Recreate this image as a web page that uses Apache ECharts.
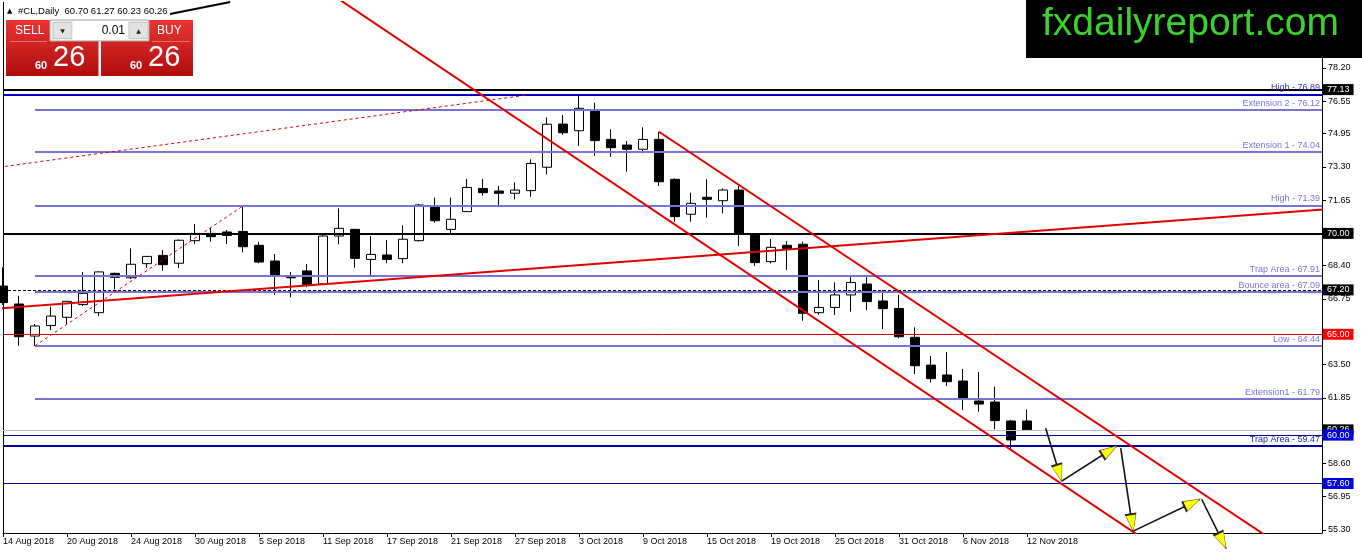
<!DOCTYPE html>
<html><head><meta charset="utf-8">
<script src="https://cdn.jsdelivr.net/npm/echarts@6/dist/echarts.min.js"></script>
<style>html,body{margin:0;padding:0;background:#fff}#c{width:1362px;height:554px}</style>
</head><body><div id="c"></div>
<script>
// ---------- data ----------
const dateLabels = ['14 Aug 2018','20 Aug 2018','24 Aug 2018','30 Aug 2018','5 Sep 2018','11 Sep 2018','17 Sep 2018','21 Sep 2018','27 Sep 2018','3 Oct 2018','9 Oct 2018','15 Oct 2018','19 Oct 2018','25 Oct 2018','31 Oct 2018','6 Nov 2018','12 Nov 2018'];
const dateLabelBars = [0,4,8,12,16,20,24,28,32,36,40,44,48,52,56,60,64];

const open  = [67.39,66.50,64.91,65.43,65.84,66.47,66.07,68.02,67.80,68.50,68.91,68.52,69.64,70.00,70.07,70.10,69.41,68.63,67.82,68.14,67.49,69.87,70.20,68.71,68.93,68.75,69.64,71.33,70.20,71.08,72.23,72.10,71.99,72.12,73.28,75.42,75.09,76.12,74.66,74.38,74.17,74.66,72.68,70.95,71.79,71.62,72.15,69.99,68.60,69.41,69.46,66.07,66.33,66.95,67.49,66.65,66.28,64.85,63.47,62.98,62.68,61.69,61.64,60.70,60.70];
const high  = [68.32,66.90,65.51,66.37,66.65,68.09,68.12,68.05,69.26,68.88,69.18,69.70,70.47,70.28,70.17,71.36,69.57,68.98,68.09,68.48,69.94,71.24,70.22,69.87,69.67,70.40,71.46,71.77,71.77,72.70,72.70,72.35,72.53,73.67,75.75,75.87,76.86,76.48,75.16,74.58,75.26,75.04,72.73,72.02,72.68,72.23,72.35,70.00,69.72,69.62,69.59,67.69,67.57,67.86,67.86,67.19,66.95,65.34,63.92,64.12,63.28,63.13,62.40,60.75,61.27];
const low   = [66.45,64.43,64.42,65.21,65.51,66.40,65.90,67.23,67.74,68.30,68.15,68.28,69.47,69.59,69.47,69.06,68.52,66.96,66.83,67.33,67.45,69.46,68.30,67.94,68.52,68.52,69.59,70.53,70.00,71.07,71.87,71.41,71.69,71.82,72.93,74.88,74.33,73.84,73.80,73.06,73.97,72.35,70.58,70.58,70.78,71.00,69.38,68.38,68.51,68.19,65.67,65.96,65.96,66.12,66.20,65.26,64.80,63.03,62.60,62.43,61.24,61.16,60.29,59.26,60.23];
const close = [66.57,64.88,65.41,65.90,66.63,67.03,68.09,67.82,68.47,68.86,68.45,69.66,69.95,69.84,69.90,69.34,68.58,67.94,67.80,67.44,69.87,70.25,68.76,68.96,68.71,69.71,71.41,70.63,70.70,72.28,72.02,71.99,72.15,73.47,75.41,74.99,76.20,74.60,74.25,74.17,74.66,72.56,70.83,71.49,71.69,72.15,69.99,68.55,69.31,69.24,66.04,66.33,66.95,67.57,66.62,66.27,64.88,63.44,62.80,62.65,61.81,61.54,60.72,59.76,60.26];

const priceTicks = [78.20,76.55,74.95,73.30,71.65,70.00,68.40,66.75,63.50,61.85,58.60,56.95,55.30];

const levelStartBar = 2;
const levelValues = [76.12,74.04,71.39,67.91,67.09,64.44,61.79];
const levelNames  = ['Extension 2','Extension 1','High','Trap Area','Bounce area','Low','Extension1'];
const blueLevelValues = [76.89,59.47];
const blueLevelNames  = ['High','Trap Area'];
const blackTagPrices = [77.13,70.00];
const dashedTagPrice = 67.20;
const redTagPrice = 65.00;
const bidPrice = 60.26;
const blueTagPrices = [60.00,57.60];

const risingLine   = [[-1,66.23],[83,71.21]];
const fibDashLine  = [[2,64.43],[15,71.36]];
const upperDashLine= [[-1,73.20],[32.75,76.86]];
const channelLower = [[20,82.14],[71,55.01]];
const channelUpper = [[41,75.04],[79,54.98]];
const topBlackLine = [[10.44,80.88],[14.2,81.47]];
const arrowSegments = [
  [[65.17,60.34],[66.17,57.72]],
  [[66.17,57.72],[69.61,59.46]],
  [[69.86,59.35],[70.64,55.24]],
  [[70.64,55.24],[74.81,56.82]],
  [[74.92,56.82],[76.44,54.39]]
];
const headerText = '#CL,Daily  60.70 61.27 60.23 60.26';
const lotSize = '0.01';
const sellBig = '26', sellSmall = '60', buyBig = '26', buySmall = '60';

// ---------- chart ----------
const X_MIN = 0, X_MAX = 82.44, Y_MIN = 55.147, Y_MAX = 81.472;
const FONT = '"Liberation Sans", Arial, sans-serif';
const PURPLE = '#7b72d6';

const candles = open.map((o,i)=>[i,o,close[i],low[i],high[i]]);

function fullLine(v, color, width, type, label){
  return {yAxis:v, lineStyle:{color, width, type:type||'solid'}, label: label || {show:false}};
}
function tagLabel(text, bg){
  return {show:true, position:'end', formatter:text, color:'#fff', backgroundColor:bg,
    padding:[1,4,0,4], lineHeight:10, fontSize:9, fontFamily:FONT, distance:1};
}
function textLabel(text, color){
  return {show:true, position:'insideEndTop', formatter:text, color, fontSize:9, fontFamily:FONT, distance:2};
}

const levelData = [];
// left frame line
levelData.push({xAxis:X_MIN, lineStyle:{color:'#000', width:1, type:'solid'}, label:{show:false}});
levelValues.forEach((v,i)=>{
  levelData.push([
    {coord:[levelStartBar,v], lineStyle:{color:PURPLE,width:2,type:'solid'},
     label:textLabel(levelNames[i]+' - '+v.toFixed(2), PURPLE)},
    {coord:[X_MAX,v]}
  ]);
});
levelData.push(fullLine(blueLevelValues[0], '#0000c0', 2, 'solid', textLabel(blueLevelNames[0]+' - '+blueLevelValues[0].toFixed(2), '#3434b0')));
levelData.push(fullLine(blueLevelValues[1], '#00009a', 2, 'solid', textLabel(blueLevelNames[1]+' - '+blueLevelValues[1].toFixed(2), '#22229e')));
blackTagPrices.forEach(v=>levelData.push(fullLine(v,'#000',2,'solid',tagLabel(v.toFixed(2),'#000'))));
levelData.push(fullLine(dashedTagPrice,'#000',1,[3,2],tagLabel(dashedTagPrice.toFixed(2),'#000')));
levelData.push(fullLine(redTagPrice,'#d40000',1,'solid',tagLabel(redTagPrice.toFixed(2),'#ff0000')));
levelData.push(fullLine(bidPrice,'#c0c0c0',1,'solid',tagLabel(bidPrice.toFixed(2),'#000')));
blueTagPrices.forEach(v=>levelData.push(fullLine(v,'#00009a',1,'solid',tagLabel(v.toFixed(2),'#0000e0'))));

function trend(pts, color, width, type){
  return {type:'line', data:pts, symbol:'none', silent:true, z:5, clip:true,
    lineStyle:{color, width, type:type||'solid'}};
}
// arrow heads: path whose tip sits at the bounding-box centre, so the tip lands on the segment end
const HEAD_OUTLINE = 'path://M6,0 M6,17 L12,36 L0,36 Z';
const HEAD_FILL    = 'path://M5,0 M5,16 L10,32 L0,32 Z';
function arrowLayer(color, width, head, headSize){
  return {type:'lines', coordinateSystem:'cartesian2d', polyline:false, silent:true, z:8, clip:false,
    symbol: head ? ['none', head] : 'none',
    symbolSize: head ? [0, headSize] : 0,
    lineStyle:{color, width, type:'solid', opacity:1, curveness:0},
    data: arrowSegments.map(s=>({coords:s}))};
}

const redGrad = new echarts.graphic.LinearGradient(0,0,0,1,[{offset:0,color:'#ea3434'},{offset:1,color:'#b00c0c'}]);

const option = {
  animation:false,
  backgroundColor:'#fff',
  grid:{left:3, right:40, top:2, bottom:21, containLabel:false},
  xAxis:{type:'value', min:X_MIN, max:X_MAX, position:'bottom',
    axisLine:{show:true, onZero:false, lineStyle:{color:'#000', width:1}},
    axisTick:{show:true, length:4, lineStyle:{color:'#000'}, customValues:dateLabelBars},
    axisLabel:{show:true, customValues:dateLabelBars, align:'left', margin:4, fontSize:9, fontFamily:FONT, color:'#000',
      formatter:(v)=>{const i=dateLabelBars.indexOf(Math.round(v)); return i>=0?dateLabels[i]:'';}},
    splitLine:{show:false}},
  yAxis:{type:'value', min:Y_MIN, max:Y_MAX, position:'right', scale:true,
      axisLine:{show:true, onZero:false, lineStyle:{color:'#000', width:1}},
      axisTick:{show:true, length:4, lineStyle:{color:'#000'}, customValues:priceTicks},
      axisLabel:{show:true, customValues:priceTicks, margin:6, fontSize:9, fontFamily:FONT, color:'#000',
        formatter:(v)=>v.toFixed(2)},
      splitLine:{show:false}},
  series:[
    {type:'candlestick', data:candles, encode:{x:0, y:[1,2,3,4]}, barWidth:10, clip:true, z:2,
      itemStyle:{color:'#ffffff', color0:'#000000', borderColor:'#000000', borderColor0:'#000000', borderWidth:1}},
    {type:'line', data:[], silent:true, z:4, clip:true,
      markLine:{silent:true, symbol:'none', animation:false, data:levelData}},
    trend(risingLine,'#e00000',2),
    trend(fibDashLine,'#e00000',1,[3,3]),
    trend(upperDashLine,'#e00000',1,[3,3]),
    trend(channelLower,'#e00000',2),
    trend(channelUpper,'#e00000',2),
    trend(topBlackLine,'#000',2),
    arrowLayer('#111',1.6,null,null),
    arrowLayer('#222',0,HEAD_OUTLINE,[12,36]),
    arrowLayer('#ffff00',0,HEAD_FILL,[10,32])
  ],
  graphic:[
    // logo
    {type:'rect', z:100, shape:{x:1026,y:0,width:336,height:58}, style:{fill:'#000'}},
    {type:'text', z:101, x:1042, y:24, style:{text:'fxdailyreport.com', fill:'#3bd22d', font:'39px "Liberation Sans", Arial', verticalAlign:'middle'}},
    // header
    {type:'text', z:101, x:7, y:11, style:{text:'\u25B2', fill:'#000', font:'7px "DejaVu Sans"', verticalAlign:'middle'}},
    {type:'text', z:101, x:18, y:11, style:{text:headerText, fill:'#000', font:'9.5px "Liberation Sans", Arial', verticalAlign:'middle'}},
    // trade panel
    {type:'rect', z:100, shape:{x:6,y:20,width:92.5,height:56}, style:{fill:redGrad}},
    {type:'rect', z:100, shape:{x:101,y:20,width:92,height:56}, style:{fill:redGrad}},
    {type:'rect', z:101, shape:{x:50,y:20,width:99,height:21}, style:{fill:'#f0f0f0', stroke:'#a8a8a8', lineWidth:1}},
    {type:'rect', z:102, shape:{x:53,y:22.5,width:19,height:16}, style:{fill:'#e2e2e2', stroke:'#c4c4c4', lineWidth:1}},
    {type:'rect', z:102, shape:{x:72.5,y:21,width:56,height:19}, style:{fill:'#fff'}},
    {type:'rect', z:102, shape:{x:129,y:22.5,width:19,height:16}, style:{fill:'#e2e2e2', stroke:'#c4c4c4', lineWidth:1}},
    {type:'text', z:103, x:62.5, y:31, style:{text:'\u25BC', fill:'#222', font:'6px "DejaVu Sans"', align:'center', verticalAlign:'middle'}},
    {type:'text', z:103, x:138.5, y:31, style:{text:'\u25B2', fill:'#222', font:'6px "DejaVu Sans"', align:'center', verticalAlign:'middle'}},
    {type:'text', z:103, x:125, y:31, style:{text:lotSize, fill:'#000', font:'12px "Liberation Sans", Arial', align:'right', verticalAlign:'middle'}},
    {type:'text', z:103, x:15, y:31, style:{text:'SELL', fill:'#fff', font:'12px "Liberation Sans", Arial', verticalAlign:'middle'}},
    {type:'text', z:103, x:157, y:31, style:{text:'BUY', fill:'#fff', font:'12px "Liberation Sans", Arial', verticalAlign:'middle'}},
    {type:'line', z:103, shape:{x1:10,y1:41.5,x2:47,y2:41.5}, style:{stroke:'#f07070', lineWidth:1}},
    {type:'line', z:103, shape:{x1:152,y1:41.5,x2:190,y2:41.5}, style:{stroke:'#f07070', lineWidth:1}},
    {type:'text', z:103, x:35, y:66, style:{text:sellSmall, fill:'#fff', font:'bold 11px "Liberation Sans", Arial', verticalAlign:'middle'}},
    {type:'text', z:103, x:53, y:58, style:{text:sellBig, fill:'#fff', font:'29px "Liberation Sans", Arial', verticalAlign:'middle'}},
    {type:'text', z:103, x:130, y:66, style:{text:buySmall, fill:'#fff', font:'bold 11px "Liberation Sans", Arial', verticalAlign:'middle'}},
    {type:'text', z:103, x:148, y:58, style:{text:buyBig, fill:'#fff', font:'29px "Liberation Sans", Arial', verticalAlign:'middle'}}
  ]
};
const chart = echarts.init(document.getElementById('c'), null, {renderer:'canvas', width:1362, height:554});
chart.setOption(option);
</script>
</body></html>
